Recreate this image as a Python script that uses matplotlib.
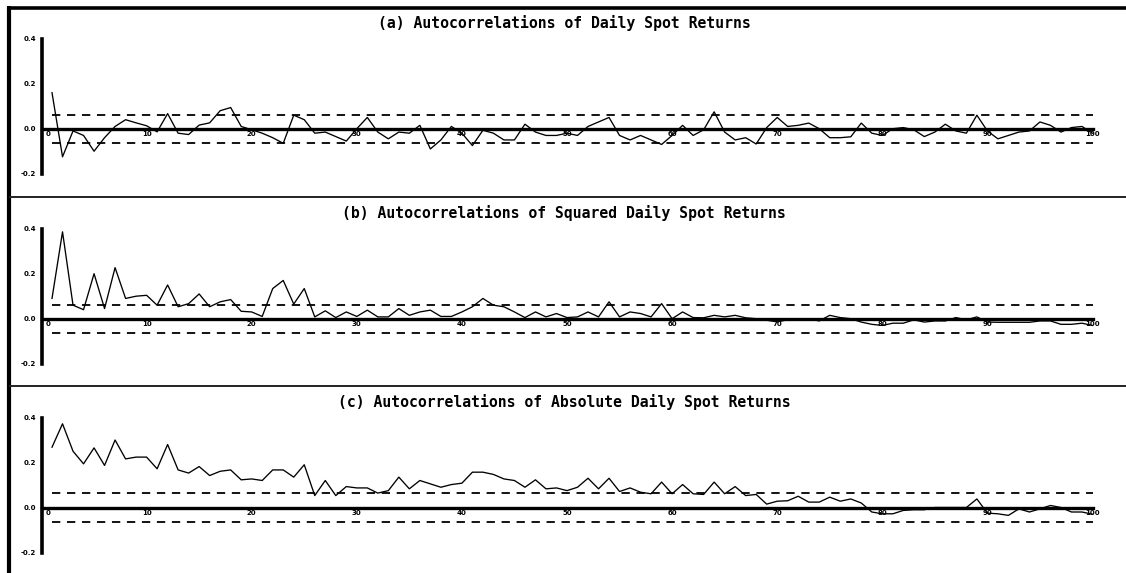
import matplotlib
matplotlib.use("Agg")
import matplotlib.pyplot as plt
import numpy as np
from matplotlib.transforms import offset_copy

W, H = 1126, 573

# ---------------- data ----------------
lags = np.arange(1, 101)

acf_returns = [
    0.16, -0.125, -0.01, -0.03, -0.10, -0.04, 0.01, 0.04, 0.026, 0.013,
    -0.014, 0.067, -0.02, -0.026, 0.016, 0.026, 0.08, 0.094, 0.01, -0.005,
    -0.02, -0.04, -0.065, 0.06, 0.04, -0.02, -0.015, -0.035, -0.055, 0.0,
    0.05, -0.015, -0.045, -0.015, -0.02, 0.015, -0.09, -0.05, 0.01, -0.02,
    -0.075, -0.007, -0.02, -0.05, -0.05, 0.02, -0.015, -0.03, -0.03, -0.02,
    -0.03, 0.01, 0.03, 0.05, -0.03, -0.05, -0.03, -0.05, -0.07, -0.03,
    0.015, -0.03, -0.005, 0.075, -0.015, -0.05, -0.04, -0.068, 0.005, 0.05,
    0.01, 0.015, 0.025, 0.0, -0.04, -0.04, -0.036, 0.025, -0.02, -0.03,
    0.0, 0.005, -0.005, -0.035, -0.015, 0.02, -0.01, -0.02, 0.06, -0.01,
    -0.045, -0.03, -0.015, -0.01, 0.03, 0.015, -0.015, 0.005, 0.01, -0.02,
]

acf_squared = [
    0.09, 0.386, 0.06, 0.04, 0.20, 0.045, 0.227, 0.09, 0.10, 0.104,
    0.06, 0.15, 0.053, 0.067, 0.11, 0.053, 0.075, 0.085, 0.033, 0.03,
    0.01, 0.134, 0.17, 0.065, 0.134, 0.008, 0.035, 0.005, 0.03, 0.01,
    0.038, 0.008, 0.008, 0.045, 0.015, 0.03, 0.038, 0.01, 0.01, 0.03,
    0.053, 0.09, 0.06, 0.053, 0.03, 0.005, 0.03, 0.008, 0.023, 0.005,
    0.008, 0.03, 0.008, 0.075, 0.008, 0.03, 0.023, 0.008, 0.067, 0.0,
    0.03, 0.005, 0.004, 0.015, 0.008, 0.015, 0.004, 0.0, -0.007, -0.014,
    -0.005, -0.005, 0.0, -0.01, 0.015, 0.005, 0.0, -0.015, -0.025, -0.03,
    -0.02, -0.02, -0.005, -0.015, -0.01, -0.01, 0.005, -0.005, 0.008, -0.015,
    -0.016, -0.016, -0.016, -0.016, -0.01, -0.01, -0.025, -0.025, -0.02, -0.03,
]

acf_absolute = [
    0.268, 0.372, 0.25, 0.194, 0.265, 0.187, 0.30, 0.216, 0.224, 0.224,
    0.172, 0.28, 0.167, 0.153, 0.182, 0.142, 0.161, 0.167, 0.123, 0.127,
    0.12, 0.167, 0.167, 0.135, 0.19, 0.053, 0.12, 0.053, 0.093, 0.087,
    0.087, 0.064, 0.075, 0.135, 0.083, 0.12, 0.105, 0.09, 0.102, 0.108,
    0.157, 0.157, 0.147, 0.127, 0.12, 0.09, 0.123, 0.083, 0.087, 0.075,
    0.09, 0.13, 0.083, 0.13, 0.071, 0.087, 0.068, 0.061, 0.113, 0.061,
    0.102, 0.061, 0.058, 0.113, 0.061, 0.093, 0.053, 0.058, 0.015, 0.028,
    0.03, 0.05, 0.024, 0.024, 0.046, 0.028, 0.038, 0.02, -0.02, -0.028,
    -0.028, -0.013, -0.01, -0.01, 0.0, 0.0, 0.0, 0.0, 0.038, -0.025,
    -0.028, -0.035, -0.006, -0.02, -0.006, 0.009, 0.0, -0.02, -0.02, -0.03,
]

series = [acf_returns, acf_squared, acf_absolute]
titles = [
    "(a) Autocorrelations of Daily Spot Returns",
    "(b) Autocorrelations of Squared Daily Spot Returns",
    "(c) Autocorrelations of Absolute Daily Spot Returns",
]
xtick_values = list(range(0, 101, 10))
xtick_labels = [str(v) for v in xtick_values]
ytick_values = [0.4, 0.2, 0.0, -0.2]
ytick_labels = ["0.4", "0.2", "0.0", "-0.2"]
conf_band = 0.063

# ---------------- layout (pixels) ----------------
zero_px = [128.7, 318.7, 507.5]
title_px = [23, 213, 402]
x0_px, x100_px = 41.5, 1092.5
px_per_unit = 225.0

fig = plt.figure(figsize=(W / 100, H / 100), dpi=100)
fig.patch.set_facecolor("white")

# frame lines
bg = fig.add_axes([0, 0, 1, 1])
bg.set_xlim(0, W)
bg.set_ylim(H, 0)
bg.axis("off")
bg.plot([8.5, 8.5], [6, H], color="black", lw=3.0, solid_capstyle="butt")
bg.plot([7, W], [7.5, 7.5], color="black", lw=2.6, solid_capstyle="butt")
for ysep in (196.8, 386.3):
    bg.plot([9, W], [ysep, ysep], color="#222222", lw=1.4, solid_capstyle="butt")

tick_font = dict(fontsize=5, fontweight="bold", family="DejaVu Sans")

for k, (vals, title) in enumerate(zip(series, titles)):
    z = zero_px[k]
    top = z - 0.4 * px_per_unit
    bot = z + 0.2 * px_per_unit
    ax = fig.add_axes([x0_px / W, 1 - bot / H, (x100_px - x0_px) / W, (bot - top) / H])
    ax.set_xlim(0, 100)
    ax.set_ylim(-0.2, 0.4)
    ax.patch.set_alpha(0)
    for s in ("top", "right", "bottom"):
        ax.spines[s].set_visible(False)
    ax.spines["left"].set_linewidth(2.6)
    ax.spines["left"].set_bounds(-0.2, 0.4)
    ax.set_xticks([])
    ax.set_yticks(ytick_values)
    ax.set_yticklabels(ytick_labels, **tick_font)
    ax.tick_params(axis="y", length=0, pad=4.0)

    # zero line
    ax.axhline(0, 0, 1, color="black", lw=2.4, clip_on=False)
    # confidence band
    ax.hlines([conf_band, -conf_band], 1, 100, colors="black", lw=1.3,
              linestyles=(0, (4.6, 3.7)), clip_on=False)
    # acf series
    ax.plot(lags, vals, color="black", lw=0.95, clip_on=False)

    # x tick labels below zero line
    for v, lab in zip(xtick_values, xtick_labels):
        dx = 7 if v == 0 else 0
        tr = offset_copy(ax.transData, fig=fig, x=dx, y=-5.5, units="dots")
        ax.text(v, 0, lab, transform=tr, ha="center", va="center", **tick_font)

    fig.text(564 / W, 1 - title_px[k] / H, title, ha="center", va="center",
             family="DejaVu Sans Mono", fontweight="bold", fontsize=10.6)

fig.savefig("out.png", dpi=100, facecolor="white")
